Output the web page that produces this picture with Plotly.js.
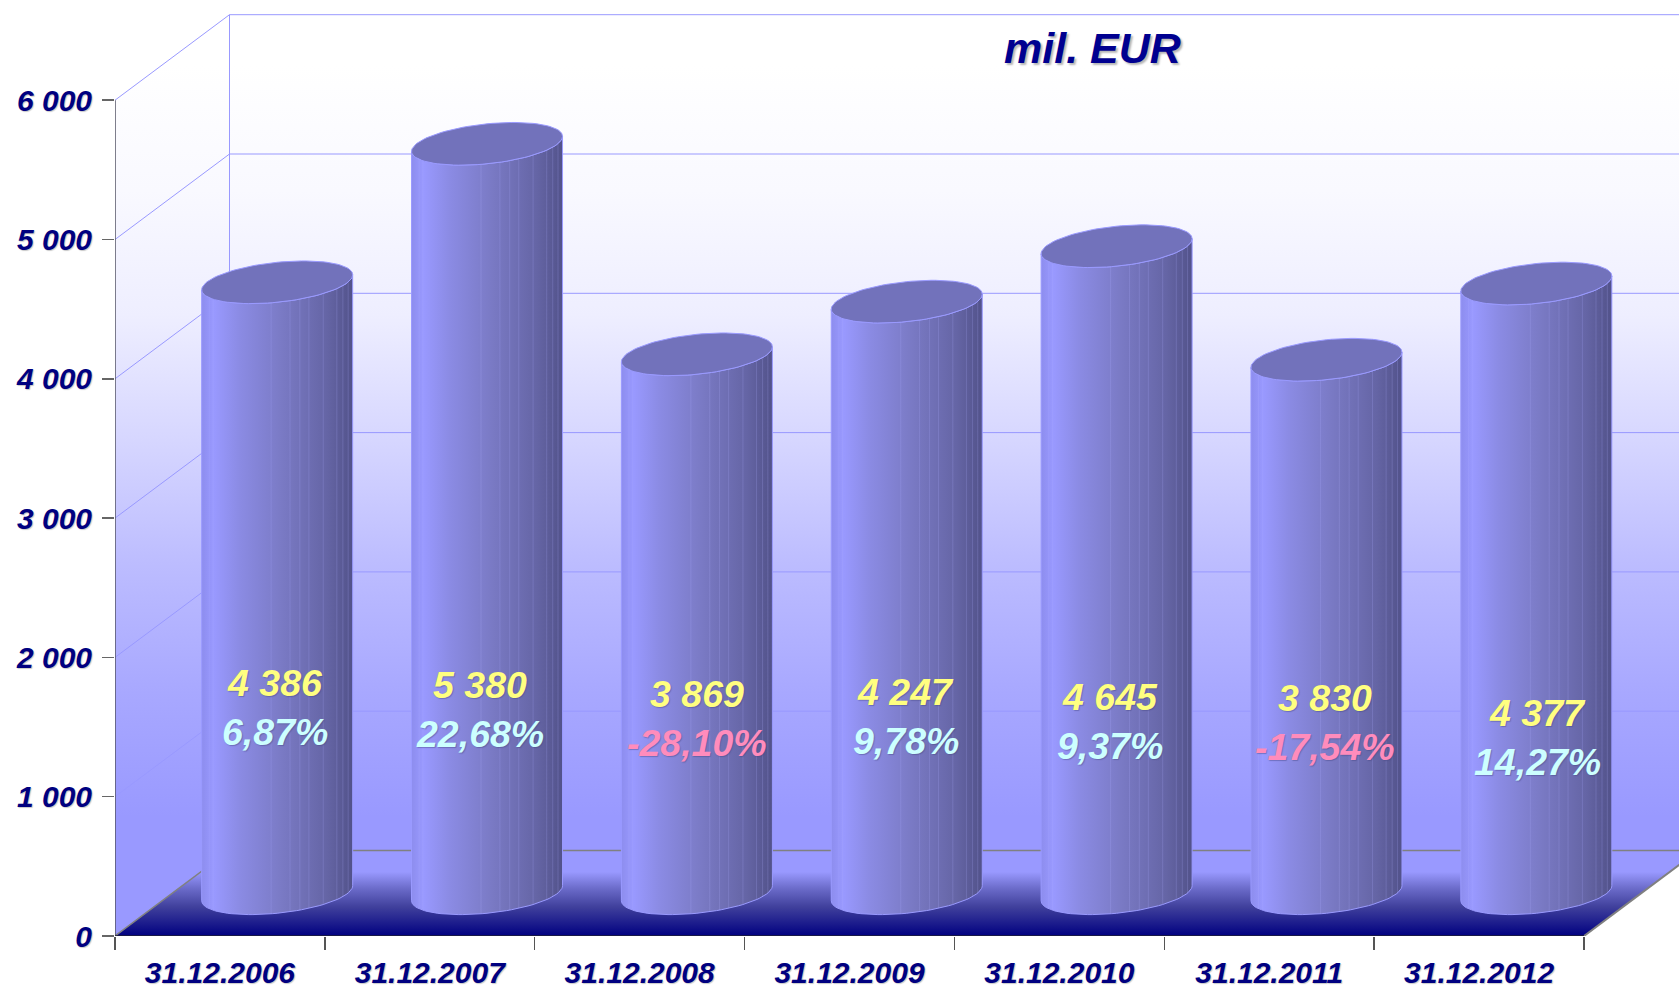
<!DOCTYPE html>
<html><head><meta charset="utf-8">
<script src="https://cdn.plot.ly/plotly-3.0.1.min.js"></script>
<style>html,body{margin:0;padding:0;background:#fff;overflow:hidden}#c{width:1679px;height:988px}</style>
</head><body><div id="c"></div>
<script>
// ---- data ----
const categories = ['31.12.2006','31.12.2007','31.12.2008','31.12.2009','31.12.2010','31.12.2011','31.12.2012'];
const values = [4386,5380,3869,4247,4645,3830,4377];
const valueLabels = ['4 386','5 380','3 869','4 247','4 645','3 830','4 377'];
const growthLabels = ['6,87%','22,68%','-28,10%','9,78%','9,37%','-17,54%','14,27%'];
const yTicks = [0,1000,2000,3000,4000,5000,6000];
const yTickText = ['0','1 000','2 000','3 000','4 000','5 000','6 000'];

// ---- label placement (not data) ----
const labelY = [1816,1802,1737,1751,1716,1709,1601];
const labelShift = [-2,-7,0,-1,-6,-1,1];

// ---- oblique projection, in axis units ----
const W=1679,H=988,L=115,B=52;
const pxPerCat=209.86, pxPerK=139.3;
const xRange=[-0.5,-0.5+(W-L)/pxPerCat], yRange=[0,(H-B)/pxPerK*1000];
const DX=114.5/pxPerCat, DY=85.5/pxPerK*1000;
const x0=-0.5, x1=categories.length-0.5, yTop=6000;
const RX=75.5/pxPerCat, RY=20/pxPerK*1000, TILT=7.5/pxPerK*1000;
const facets=[-0.90,-0.85,-0.08,0.17,0.30,0.42,0.61,0.79,0.87,0.94];
const wallScale=[[0,'#9999ff'],[0.04,'#9999ff'],[0.19,'#a8a8ff'],[0.34,'#bcbcff'],[0.49,'#d6d6ff'],[0.64,'#eeeeff'],[0.79,'#f9f9ff'],[0.94,'#ffffff'],[1,'#ffffff']];

const traces=[];
const poly=(xs,ys,extra)=>traces.push(Object.assign({x:xs,y:ys,mode:'lines',fill:'toself',line:{width:0},hoverinfo:'skip',showlegend:false},extra));
const line=(xs,ys,color,width)=>traces.push({x:xs,y:ys,mode:'lines',line:{color:color,width:width},hoverinfo:'skip',showlegend:false});

// back wall, left wall
poly([x0+DX,x1+DX,x1+DX,x0+DX,x0+DX],[DY,DY,yTop+DY,yTop+DY,DY],
  {fillgradient:{type:'vertical',start:DY,stop:yTop+DY,colorscale:wallScale}});
poly([x0,x0+DX,x0+DX,x0,x0],[0,DY,yTop+DY,yTop,0],
  {fillgradient:{type:'vertical',start:DY,stop:yTop+DY,colorscale:wallScale}});
// grid on the walls
yTicks.forEach(v=>{
  if(v===0) return;
  line([x0,x0+DX,x1+DX],[v,v+DY,v+DY],'#9999ff',1);
});
line([x0+DX,x0+DX],[DY,yTop+DY],'#9999ff',1);
// floor
poly([x0,x1,x1+DX,x0+DX,x0],[0,0,DY,DY,0],
  {fillgradient:{type:'vertical',start:0,stop:DY,colorscale:[[0,'#000080'],[0.34,'#40409c'],[0.55,'#6a6ac8'],[0.75,'#9999ff'],[1,'#9999ff']]}});
line([x0,x0+DX,x1+DX],[0,DY,DY],'#808080',1.5);
line([x1,x1+DX],[0,DY],'#808080',2);

// cylinders
values.forEach((v,i)=>{
  const cx=i+DX/2, b=DY/2, t=v+DY/2;
  const pt=(a,c)=>[cx+RX*Math.cos(a), c+TILT*Math.cos(a)+RY*Math.sin(a)];
  const front=[], ring=[];
  for(let k=0;k<=48;k++) front.push(Math.PI+Math.PI*k/48);
  for(let k=0;k<=96;k++) ring.push(2*Math.PI*k/96);
  const xs=[],ys=[];
  front.forEach(a=>{const p=pt(a,b);xs.push(p[0]);ys.push(p[1]);});
  front.slice().reverse().forEach(a=>{const p=pt(a,t);xs.push(p[0]);ys.push(p[1]);});
  xs.push(xs[0]);ys.push(ys[0]);
  poly(xs,ys,{line:{color:'#9a9aff',width:1},fillgradient:{type:'horizontal',start:cx-RX,stop:cx+RX,colorscale:[
    [0,'#8d8dee'],[0.08,'#9999ff'],[0.25,'#8b8be4'],[0.5,'#7c7cc8'],[0.83,'#6565a5'],[1,'#52528a']]}});
  // facet seams
  const fx=[],fy=[];
  facets.forEach(f=>{
    const a=2*Math.PI-Math.acos(f);
    const p=pt(a,b),q=pt(a,t);
    fx.push(p[0],q[0],null);fy.push(p[1],q[1],null);
  });
  line(fx,fy,'rgba(175,175,255,0.22)',1);
  // top cap
  const tx=[],ty=[];
  ring.forEach(a=>{const p=pt(a,t);tx.push(p[0]);ty.push(p[1]);});
  poly(tx,ty,{fillcolor:'#7272bb',line:{color:'#9a9aff',width:1}});
});

// axis lines
line([x0,x0],[0,yTop],'#555566',1.5);
line([x0,x1],[0,0],'#222233',1.5);

const lblFont=(size,color,shadow)=>({family:'"Liberation Sans", Arial, sans-serif',size:size,weight:700,style:'italic',color:color,shadow:shadow||'none'});
const ann=[{xref:'x',yref:'y',x:x0+(1092-L)/pxPerCat,y:(H-B-48)/pxPerK*1000,text:'mil. EUR',showarrow:false,
  font:lblFont(43,'#000090','2px 2px 2px #b5b5b5')}];
values.forEach((v,i)=>{
  const cx=i+DX/2;
  ann.push({xref:'x',yref:'y',x:cx,y:labelY[i],xshift:labelShift[i]*1.07,text:valueLabels[i],showarrow:false,
    font:lblFont(37.5,'#ffff80','1px 1px 1px rgba(70,70,130,.45)')});
  ann.push({xref:'x',yref:'y',x:cx,y:labelY[i]-354,xshift:labelShift[i]*1.07,text:growthLabels[i],showarrow:false,
    font:lblFont(37.5,growthLabels[i][0]==='-'?'#ff8cbc':'#ccffff','1px 1px 1px rgba(70,70,130,.45)')});
});

const layout={
  width:W,height:H,margin:{l:L,r:0,t:0,b:B,pad:0},
  paper_bgcolor:'#fff',plot_bgcolor:'rgba(0,0,0,0)',showlegend:false,
  xaxis:{type:'linear',range:xRange,fixedrange:true,showgrid:false,zeroline:false,showline:false,automargin:false,
    tickmode:'array',tickvals:categories.map((_,i)=>i),ticktext:categories,ticks:'outside',ticklen:10,tickcolor:'rgba(0,0,0,0)',ticklabelstandoff:0,
    tickangle:0,tickfont:lblFont(30,'#000080','1px 1px 1px #c8c8c8'),
    minor:{tickmode:'array',tickvals:categories.map((_,i)=>i-0.5).concat([x1]),ticks:'outside',ticklen:13,tickcolor:'#555',tickwidth:1.5,showgrid:false}},
  yaxis:{type:'linear',range:yRange,fixedrange:true,showgrid:false,zeroline:false,showline:false,automargin:false,
    tickmode:'array',tickvals:yTicks,ticktext:yTickText,ticks:'outside',ticklen:12,tickcolor:'#666',tickwidth:1.5,ticklabelstandoff:4,
    tickfont:lblFont(30,'#000080','1px 1px 1px #c8c8c8')},
  annotations:ann
};
Plotly.newPlot('c',traces,layout,{displayModeBar:false,staticPlot:true});
</script></body></html>
